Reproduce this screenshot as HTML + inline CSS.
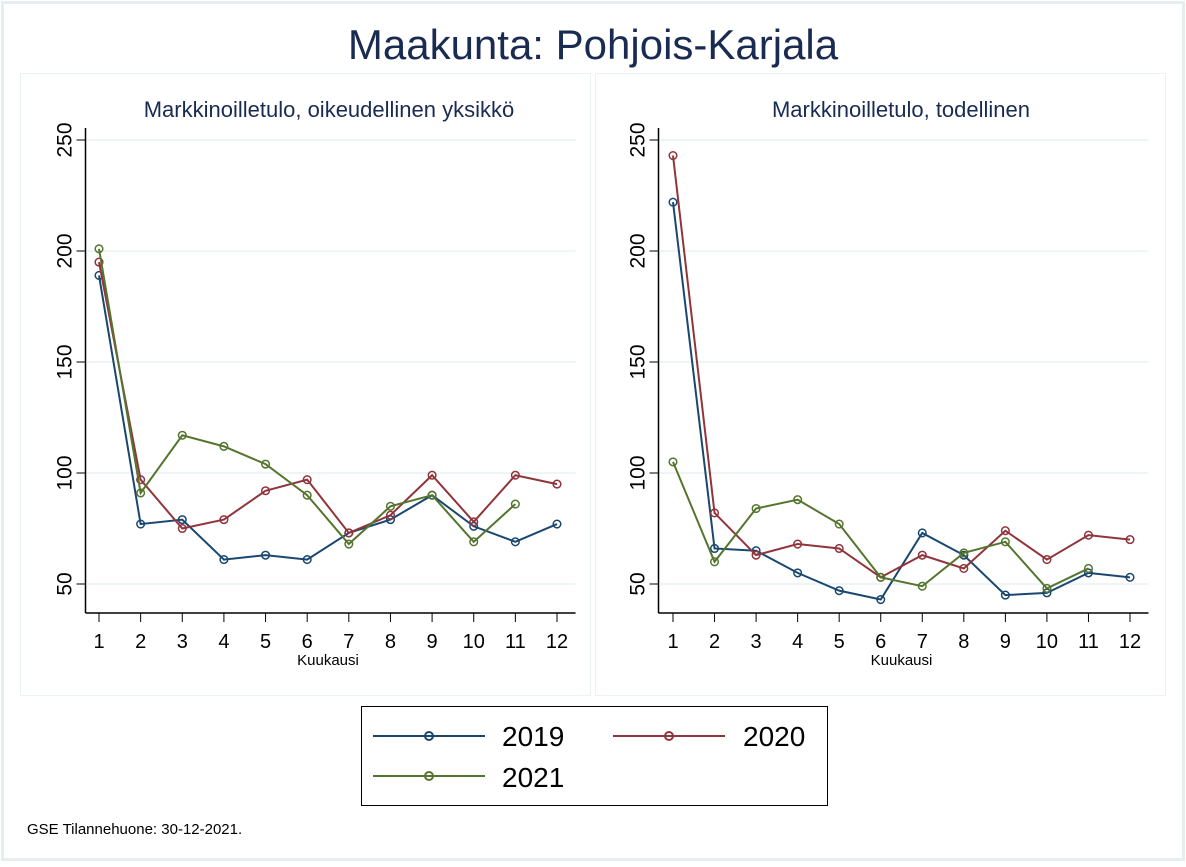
<!DOCTYPE html><html><head><style>body{margin:0;background:#fff}</style></head><body>
<svg width="1186" height="862" xmlns="http://www.w3.org/2000/svg" font-family="Liberation Sans, sans-serif">
<rect x="2.5" y="2.5" width="1181" height="857" fill="#fff" stroke="#e6eef0" stroke-width="3"/>
<rect x="20.5" y="73.5" width="570" height="622" fill="#fff" stroke="#eaf2f3"/>
<rect x="595.5" y="73.5" width="570" height="622" fill="#fff" stroke="#eaf2f3"/>
<text x="593" y="59" font-size="42" fill="#1a2b52" text-anchor="middle">Maakunta: Pohjois-Karjala</text>
<text x="329" y="117" font-size="22" fill="#1a2b52" text-anchor="middle">Markkinoilletulo, oikeudellinen yksikkö</text>
<text x="901" y="117" font-size="22" fill="#1a2b52" text-anchor="middle">Markkinoilletulo, todellinen</text>
<g id="ax"></g>
<rect x="361.5" y="706.5" width="466" height="99" fill="#fff" stroke="#000"/>
<line x1="373" y1="736" x2="485" y2="736" stroke="#1a476f" stroke-width="2"/><circle cx="429" cy="736" r="4" fill="none" stroke="#1a476f" stroke-width="2"/>
<text x="502" y="746" font-size="28">2019</text>
<line x1="613" y1="736" x2="725" y2="736" stroke="#90353b" stroke-width="2"/><circle cx="669" cy="736" r="4" fill="none" stroke="#90353b" stroke-width="2"/>
<text x="743" y="746" font-size="28">2020</text>
<line x1="373" y1="776" x2="485" y2="776" stroke="#55752f" stroke-width="2"/><circle cx="429" cy="776" r="4" fill="none" stroke="#55752f" stroke-width="2"/>
<text x="502" y="787" font-size="28">2021</text>
<text x="27" y="834" font-size="15">GSE Tilannehuone: 30-12-2021.</text>
</svg>
<script>
const NS="http://www.w3.org/2000/svg",g=document.getElementById('ax');
function el(t,a,txt){const e=document.createElementNS(NS,t);for(const k in a)e.setAttribute(k,a[k]);if(txt)e.textContent=txt;g.appendChild(e);}
const Y=v=>584-(v-50)*2.22;
function panel(ax,x1,x12,data){
 const X=i=>x1+(x12-x1)*(i)/11;
 for(const v of [50,100,150,200,250]){el('line',{x1:ax,x2:ax+490,y1:Y(v),y2:Y(v),stroke:'#eaf2f3','stroke-width':1.5});
  el('line',{x1:ax-9,x2:ax,y1:Y(v),y2:Y(v),stroke:'#000'});
  el('text',{x:0,y:0,'font-size':21,'text-anchor':'middle',transform:`translate(${ax-14},${Y(v)}) rotate(-90)`},String(v));}
 el('line',{x1:ax,x2:ax,y1:128,y2:613,stroke:'#000','stroke-width':1.5});
 el('line',{x1:ax,x2:ax+490,y1:613,y2:613,stroke:'#000','stroke-width':1.5});
 for(let i=0;i<12;i++){el('line',{x1:X(i),x2:X(i),y1:613,y2:622,stroke:'#000'});
  el('text',{x:X(i),y:648,'font-size':20,'text-anchor':'middle'},String(i+1));}
 el('text',{x:(x1+x12)/2,y:665,'font-size':15,'text-anchor':'middle'},'Kuukausi');
 const cols=['#1a476f','#90353b','#55752f'];
 data.forEach((d,k)=>{el('polyline',{points:d.map((v,i)=>X(i)+','+Y(v)).join(' '),fill:'none',stroke:cols[k],'stroke-width':2});
  d.forEach((v,i)=>el('circle',{cx:X(i),cy:Y(v),r:3.8,fill:'none',stroke:cols[k],'stroke-width':1.5}));});
}
panel(85.5,99,557,[[189,77,79,61,63,61,73,79,90,76,69,77],[195,97,75,79,92,97,73,81,99,78,99,95],[201,91,117,112,104,90,68,85,90,69,86]]);
panel(658.5,673,1130,[[222,66,65,55,47,43,73,63,45,46,55,53],[243,82,63,68,66,53,63,57,74,61,72,70],[105,60,84,88,77,53,49,64,69,48,57]]);
</script>
</body></html>
